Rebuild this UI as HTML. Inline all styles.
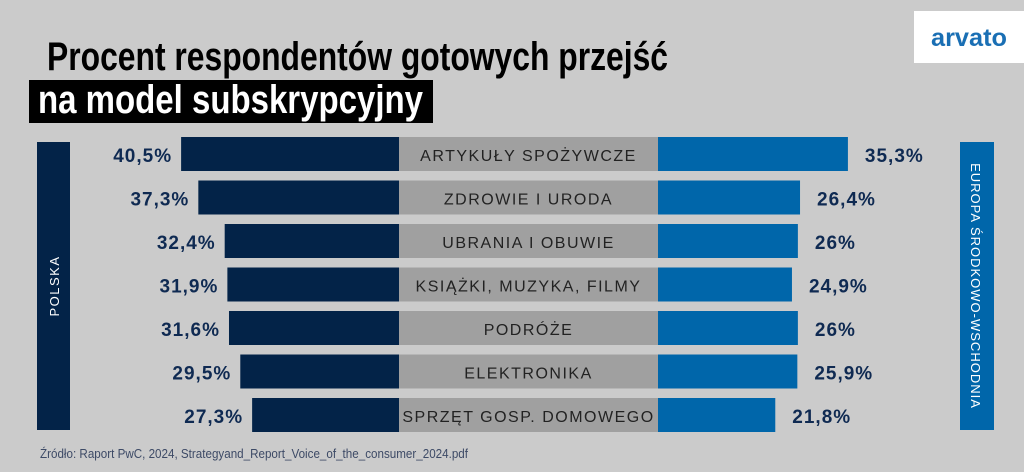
<!DOCTYPE html>
<html><head><meta charset="utf-8"><style>
body{margin:0;background:#cbcbcb;}
svg{display:block;font-family:"Liberation Sans",sans-serif;}
</style></head><body>
<svg width="1024" height="472" viewBox="0 0 1024 472" xmlns="http://www.w3.org/2000/svg">
<rect x="0" y="0" width="1024" height="472" fill="#cbcbcb"/>
<text x="47" y="70" font-size="40" font-weight="bold" fill="#000" textLength="621" lengthAdjust="spacingAndGlyphs">Procent respondentów gotowych przejść</text>
<rect x="29" y="80" width="404" height="43" fill="#000"/>
<text x="38" y="113" font-size="40" font-weight="bold" fill="#fff" textLength="385" lengthAdjust="spacingAndGlyphs">na model subskrypcyjny</text>
<rect x="914" y="11" width="110" height="52" fill="#fff"/>
<text x="931" y="46" font-size="25" font-weight="bold" fill="#1a6fb4" textLength="76" lengthAdjust="spacingAndGlyphs">arvato</text>
<rect x="37" y="142" width="33" height="288" fill="#032348"/>
<text transform="translate(59,286) rotate(-90)" text-anchor="middle" font-size="13" fill="#fff" letter-spacing="1.5">POLSKA</text>
<rect x="960" y="142" width="34" height="288" fill="#0066aa"/>
<text transform="translate(971,286) rotate(90)" text-anchor="middle" font-size="13" fill="#fff" letter-spacing="1">EUROPA ŚRODKOWO-WSCHODNIA</text>
<g id="bars"></g>
<text x="40" y="458" font-size="13" fill="#3d4a66" textLength="428" lengthAdjust="spacingAndGlyphs">Źródło: Raport PwC, 2024, Strategyand_Report_Voice_of_the_consumer_2024.pdf</text>
</svg>
<script>
const categories = ["ARTYKUŁY SPOŻYWCZE","ZDROWIE I URODA","UBRANIA I OBUWIE","KSIĄŻKI, MUZYKA, FILMY","PODRÓŻE","ELEKTRONIKA","SPRZĘT GOSP. DOMOWEGO"];
const polskaValues = [40.5,37.3,32.4,31.9,31.6,29.5,27.3];
const ceeValues = [35.3,26.4,26,24.9,26,25.9,21.8];
const polskaLabels = ["40,5%","37,3%","32,4%","31,9%","31,6%","29,5%","27,3%"];
const ceeLabels = ["35,3%","26,4%","26%","24,9%","26%","25,9%","21,8%"];

const NS="http://www.w3.org/2000/svg";
const g=document.getElementById('bars');
const leftEdge=399, rightEdge=658, pxPer=5.38, top0=137, pitch=43.5, bh=34;
const xLen=v=>v*pxPer;
const yRow=i=>top0+i*pitch;
function mk(tag,attrs){const e=document.createElementNS(NS,tag);for(const k in attrs)e.setAttribute(k,attrs[k]);g.appendChild(e);return e;}
categories.forEach((c,i)=>{
  const y=yRow(i);
  const gr=mk('rect',{x:leftEdge,y:y,width:rightEdge-leftEdge,height:bh,fill:'#a0a0a0'});
  
  
  const lt=mk('text',{x:(leftEdge+rightEdge)/2,y:y+24,'text-anchor':'middle','font-size':'16',fill:'#222','letter-spacing':'1.5'});
  lt.textContent=c;
  
  
  const wl=xLen(polskaValues[i]);
  const bl=mk('rect',{x:leftEdge-wl,y:y,width:wl,height:bh,fill:'#032348'});
  
  
  const vl=mk('text',{x:leftEdge-wl-9,y:y+25,'text-anchor':'end','font-size':'19','font-weight':'bold',fill:'#0f2a52','letter-spacing':'1'});
  vl.textContent=polskaLabels[i];
  
  
  const wr=xLen(ceeValues[i]);
  const br=mk('rect',{x:rightEdge,y:y,width:wr,height:bh,fill:'#0066aa'});
  
  
  const vr=mk('text',{x:rightEdge+wr+17,y:y+25,'font-size':'19','font-weight':'bold',fill:'#0f2a52','letter-spacing':'1'});
  vr.textContent=ceeLabels[i];
  
  
});
</script>
</body></html>
